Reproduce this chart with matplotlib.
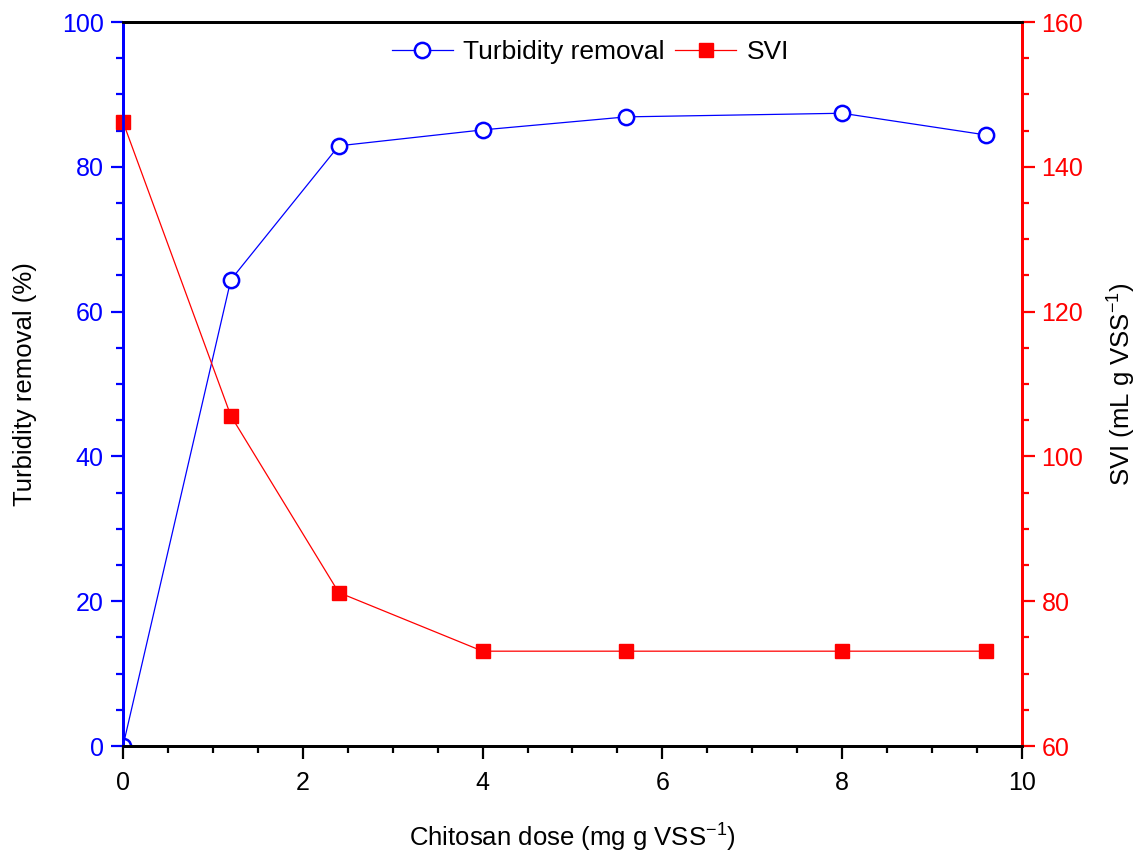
import matplotlib
matplotlib.use('Agg')
import matplotlib.pyplot as plt
from matplotlib.ticker import MultipleLocator

# data
dose = [0, 1.2, 2.4, 4.0, 5.6, 8.0, 9.6]
turbidity = [0, 64.4, 82.9, 85.1, 86.9, 87.4, 84.4]
svi = [146.2, 105.6, 81.2, 73.1, 73.1, 73.1, 73.1]

blue = '#0000ff'
red = '#ff0000'
font = 'Liberation Sans'

plt.rcParams['font.family'] = [font, 'DejaVu Sans']
plt.rcParams['mathtext.fontset'] = 'custom'
plt.rcParams['mathtext.rm'] = font
plt.rcParams['mathtext.it'] = font

fig = plt.figure(figsize=(11.41, 8.57), dpi=100)
ax = fig.add_axes([0.1078, 0.1295, 0.7879, 0.8448])
ax2 = ax.twinx()

l1, = ax.plot(dose, turbidity, color=blue, lw=0.9, marker='o', ms=11,
              mfc='white', mec=blue, mew=1.8, label='Turbidity removal')
l2, = ax2.plot(dose, svi, color=red, lw=0.9, marker='s', ms=10,
               mfc=red, mec=red, label='SVI', clip_on=False)

ax.set_xlim(0, 10)
ax.set_ylim(0, 100)
ax2.set_ylim(60, 160)

ax.xaxis.set_major_locator(MultipleLocator(2))
ax.xaxis.set_minor_locator(MultipleLocator(0.5))
ax.yaxis.set_major_locator(MultipleLocator(20))
ax.yaxis.set_minor_locator(MultipleLocator(5))
ax2.yaxis.set_major_locator(MultipleLocator(20))
ax2.yaxis.set_minor_locator(MultipleLocator(5))

# spines
for a in (ax, ax2):
    for s in a.spines.values():
        s.set_linewidth(2)
    a.spines['top'].set_color('black')
    a.spines['bottom'].set_color('black')
    a.spines['left'].set_color(blue)
    a.spines['right'].set_color(red)

ax.tick_params(axis='x', which='major', direction='out', length=9, width=1.6,
               color='black', labelsize=18, pad=9)
ax.tick_params(axis='x', which='minor', direction='out', length=5, width=1.6, color='black')
ax.tick_params(axis='y', which='major', direction='out', length=9, width=1.6,
               color=blue, labelcolor=blue, labelsize=18, pad=5)
ax.tick_params(axis='y', which='minor', direction='out', length=5, width=1.6, color=blue)
ax2.tick_params(axis='y', which='major', direction='out', length=9, width=1.6,
                color=red, labelcolor=red, labelsize=18, pad=5)
ax2.tick_params(axis='y', which='minor', direction='out', length=5, width=1.6, color=red)

ax.set_xlabel('Chitosan dose (mg g VSS$^{-1}$)', fontsize=18.5, labelpad=19)
ax.set_ylabel('Turbidity removal (%)', fontsize=18.5, labelpad=18)
ax2.set_ylabel('SVI (mL g VSS$^{-1}$)', fontsize=18.5, labelpad=16)

ax.legend([l1, l2], ['Turbidity removal', 'SVI'], loc='upper center', ncol=2,
          frameon=False, prop={'size': 19},
          handlelength=2.3, columnspacing=0.4, handletextpad=0.4,
          bbox_to_anchor=(0.52, 1.008))

fig.savefig('out.png', dpi=100)
